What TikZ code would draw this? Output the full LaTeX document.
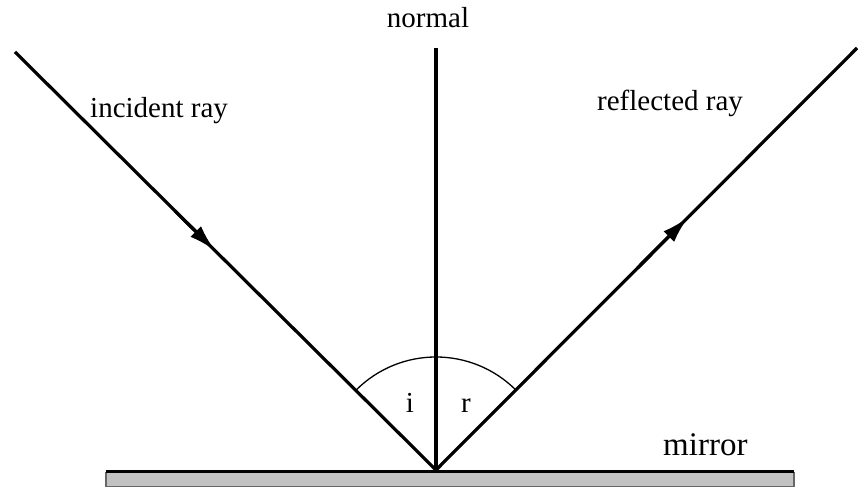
\documentclass[tikz,border=0pt]{standalone}
\usepackage{fontspec}
\setmainfont{Liberation Serif}
\usetikzlibrary{arrows.meta,calc}
\begin{document}
\begin{tikzpicture}[x=1pt,y=1pt,
  ray/.style={line width=3.2pt},
  lbl/.style={inner sep=0pt,font=\fontsize{29pt}{34pt}\selectfont},
  headtip/.style={-{Latex[length=27pt,width=15pt]}}]
\useasboundingbox (0,0) rectangle (860,489);
\fill[fill=white] (0,0) rectangle (860,489);
% mirror
\draw[draw=black!60,line width=1.2pt,fill=black!24] (106,2.5) rectangle (794,16.5);
\draw[line width=3.5pt] (106,17.5) -- (794,17.5);
% key points
\coordinate (V) at (436,19);
\coordinate (N) at (436,441);
\coordinate (I) at (15,437);
\coordinate (R) at (857,441);
\coordinate (IA) at (215,238.4);
\coordinate (RA) at (688,271.6);
% rays
\draw[ray] (V) -- (N);
\draw[ray] (I) -- (V);
\draw[ray] (V) -- (R);
\draw[ray,headtip] ($(I)!0.8!(IA)$) -- (IA);
\draw[ray,headtip] ($(V)!0.8!(RA)$) -- (RA);
% angle arc
\draw[line width=1.3pt] (V) ++(135:113) arc[start angle=135,end angle=45,radius=113];
% labels
\node[lbl,anchor=base] (tn) at (428,461) {normal};
\node[lbl,anchor=base west] (ti) at (90,371) {incident ray};
\node[lbl,anchor=base west] (tr) at (597,378) {reflected ray};
\node[inner sep=0pt,font=\fontsize{33pt}{38pt}\selectfont,anchor=base west] (tm) at (663,33) {mirror};
\node[lbl,anchor=base] (ai) at (410,76) {i};
\node[lbl,anchor=base] (ar) at (466,76) {r};
\end{tikzpicture}
\end{document}
